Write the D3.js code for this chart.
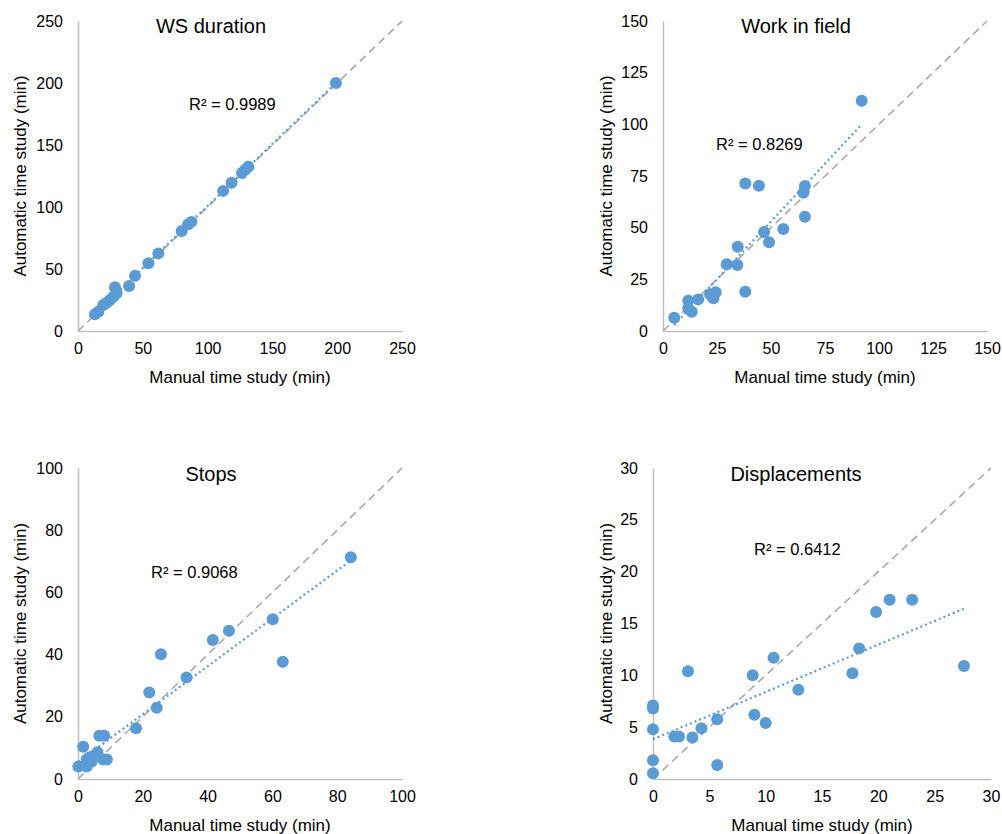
<!DOCTYPE html>
<html>
<head>
<meta charset="utf-8">
<script src="https://cdn.jsdelivr.net/npm/d3@7"></script>
<style>
  body { margin: 0; background: #fff; }
  svg { display: block; font-family: "Liberation Sans", Arial, sans-serif; }
</style>
</head>
<body>
<svg id="chart" width="1002" height="834"></svg>
<script>
// values (manual, automatic) in minutes
const wsManual = [199, 131.5, 129, 126.5, 118.5, 112, 87.5, 85, 80, 62, 54.3, 44, 39.4, 28.5, 29.8, 27.3, 24.7, 22.1, 19.5, 15.7, 13.1];
const wsAuto   = [200, 132.5, 130, 127.5, 119.5, 113, 88, 86, 80.6, 62.6, 54.6, 44.6, 36.3, 35.2, 30.4, 27.7, 25, 22.8, 21, 15.6, 13.5];

const wifManual = [92, 38.1, 44.4, 65.7, 65, 65.7, 55.7, 46.8, 49.1, 34.6, 29.5, 34.4, 38.1, 24.4, 21.8, 23.3, 16.3, 11.7, 11.7, 13.3, 5.2];
const wifAuto   = [111.4, 71.4, 70.3, 70.2, 66.9, 55.3, 49.4, 47.9, 42.9, 40.8, 32.3, 31.9, 19, 18.7, 17.8, 15.8, 15.3, 14.7, 11, 9.3, 6.4];

const stopManual = [84.2, 60.1, 46.6, 41.6, 25.6, 63.2, 33.5, 22, 24.3, 17.9, 6.6, 8.1, 1.6, 6, 4.7, 3.5, 2.7, 8.9, 7.8, 4.2, 2.7, 0.1];
const stopAuto   = [71.3, 51.4, 47.7, 44.7, 40.1, 37.7, 32.6, 27.8, 22.9, 16.3, 13.9, 13.9, 10.4, 8.6, 7.4, 6.9, 6.3, 6.3, 6.3, 5.6, 4, 4];

const dispManual = [21, 23, 19.8, 18.3, 27.6, 10.7, 3.1, 17.7, 8.85, 12.9, 0, 0, 9, 5.7, 10, 4.3, 0, 1.9, 2.3, 3.5, 0, 5.7, 0];
const dispAuto   = [17.3, 17.3, 16.1, 12.6, 10.9, 11.7, 10.4, 10.2, 10, 8.6, 7.1, 6.8, 6.2, 5.76, 5.4, 4.9, 4.8, 4.1, 4.1, 4.0, 1.8, 1.35, 0.55];

const panelTitles = ["WS duration", "Work in field", "Stops", "Displacements"];
const axisMax = [250, 150, 100, 30];
const tickStep = [50, 25, 20, 5];
const rSquared = ["0.9989", "0.8269", "0.9068", "0.6412"];

const xTitle = "Manual time study (min)";
const yTitle = "Automatic time study (min)";

// layout of the four panels
const boxes = [
  { left: 78,  right: 402, top: 21,  bottom: 331, titleX: 211, rX: 189, rY: 110, yTitleX: 26 },
  { left: 663, right: 987, top: 21,  bottom: 331, titleX: 796, rX: 716, rY: 150, yTitleX: 612 },
  { left: 78,  right: 402, top: 468, bottom: 779, titleX: 211, rX: 151, rY: 578, yTitleX: 26 },
  { left: 653, right: 991, top: 468, bottom: 779, titleX: 796, rX: 754, rY: 555, yTitleX: 612 }
];

const series = [
  [wsManual, wsAuto],
  [wifManual, wifAuto],
  [stopManual, stopAuto],
  [dispManual, dispAuto]
];

const blue = "#5B9BD5";
const svg = d3.select("#chart");

function linearFit(xs, ys) {
  const mx = d3.mean(xs), my = d3.mean(ys);
  let sxy = 0, sxx = 0;
  for (let i = 0; i < xs.length; i++) {
    sxy += (xs[i] - mx) * (ys[i] - my);
    sxx += (xs[i] - mx) * (xs[i] - mx);
  }
  const slope = sxy / sxx;
  return { slope: slope, intercept: my - slope * mx };
}

series.forEach(([xs, ys], i) => {
  const box = boxes[i];
  const g = svg.append("g");
  const x = d3.scaleLinear().domain([0, axisMax[i]]).range([box.left, box.right]);
  const y = d3.scaleLinear().domain([0, axisMax[i]]).range([box.bottom, box.top]);
  const ticks = d3.range(0, axisMax[i] + tickStep[i] / 2, tickStep[i]);

  // axes
  const xAxis = d3.axisBottom(x).tickValues(ticks).tickSize(0).tickPadding(12);
  const yAxis = d3.axisLeft(y).tickValues(ticks).tickSize(0).tickPadding(15);
  const xg = g.append("g").attr("transform", `translate(0,${box.bottom})`).call(xAxis);
  const yg = g.append("g").attr("transform", `translate(${box.left},0)`).call(yAxis);
  [xg, yg].forEach(a => {
    a.select(".domain").attr("stroke", "#BFBFBF").attr("stroke-width", 1.5);
    a.selectAll("text").attr("font-size", 16).attr("fill", "#000")
      .attr("font-family", "Liberation Sans, Arial, sans-serif");
  });

  // 1:1 line
  g.append("line")
    .attr("x1", x(0)).attr("y1", y(0))
    .attr("x2", x(axisMax[i])).attr("y2", y(axisMax[i]))
    .attr("stroke", "#A5A5A5").attr("stroke-width", 1.5)
    .attr("stroke-dasharray", "8,5");

  // trendline
  const fit = linearFit(xs, ys);
  const [x0, x1] = d3.extent(xs);
  g.append("line")
    .attr("x1", x(x0)).attr("y1", y(fit.intercept + fit.slope * x0))
    .attr("x2", x(x1)).attr("y2", y(fit.intercept + fit.slope * x1))
    .attr("stroke", blue).attr("stroke-width", 2.2)
    .attr("stroke-dasharray", "2,3");

  // points
  g.selectAll("circle")
    .data(xs.map((v, k) => [v, ys[k]]))
    .join("circle")
    .attr("cx", d => x(d[0]))
    .attr("cy", d => y(d[1]))
    .attr("r", 6)
    .attr("fill", blue);

  // texts
  g.append("text")
    .attr("x", box.titleX).attr("y", box.top + 12 + (i > 1 ? 0 : 0))
    .attr("text-anchor", "middle").attr("font-size", 20)
    .attr("y", i < 2 ? 33 : 481)
    .text(panelTitles[i]);

  g.append("text")
    .attr("x", box.rX).attr("y", box.rY)
    .attr("font-size", 16.5)
    .text(`R² = ${rSquared[i]}`);

  g.append("text")
    .attr("x", (box.left + box.right) / 2).attr("y", box.bottom + 52)
    .attr("text-anchor", "middle").attr("font-size", 17)
    .text(xTitle);

  g.append("text")
    .attr("transform", `translate(${box.yTitleX},${(box.top + box.bottom) / 2}) rotate(-90)`)
    .attr("text-anchor", "middle").attr("font-size", 17)
    .text(yTitle);
});
</script>
</body>
</html>
